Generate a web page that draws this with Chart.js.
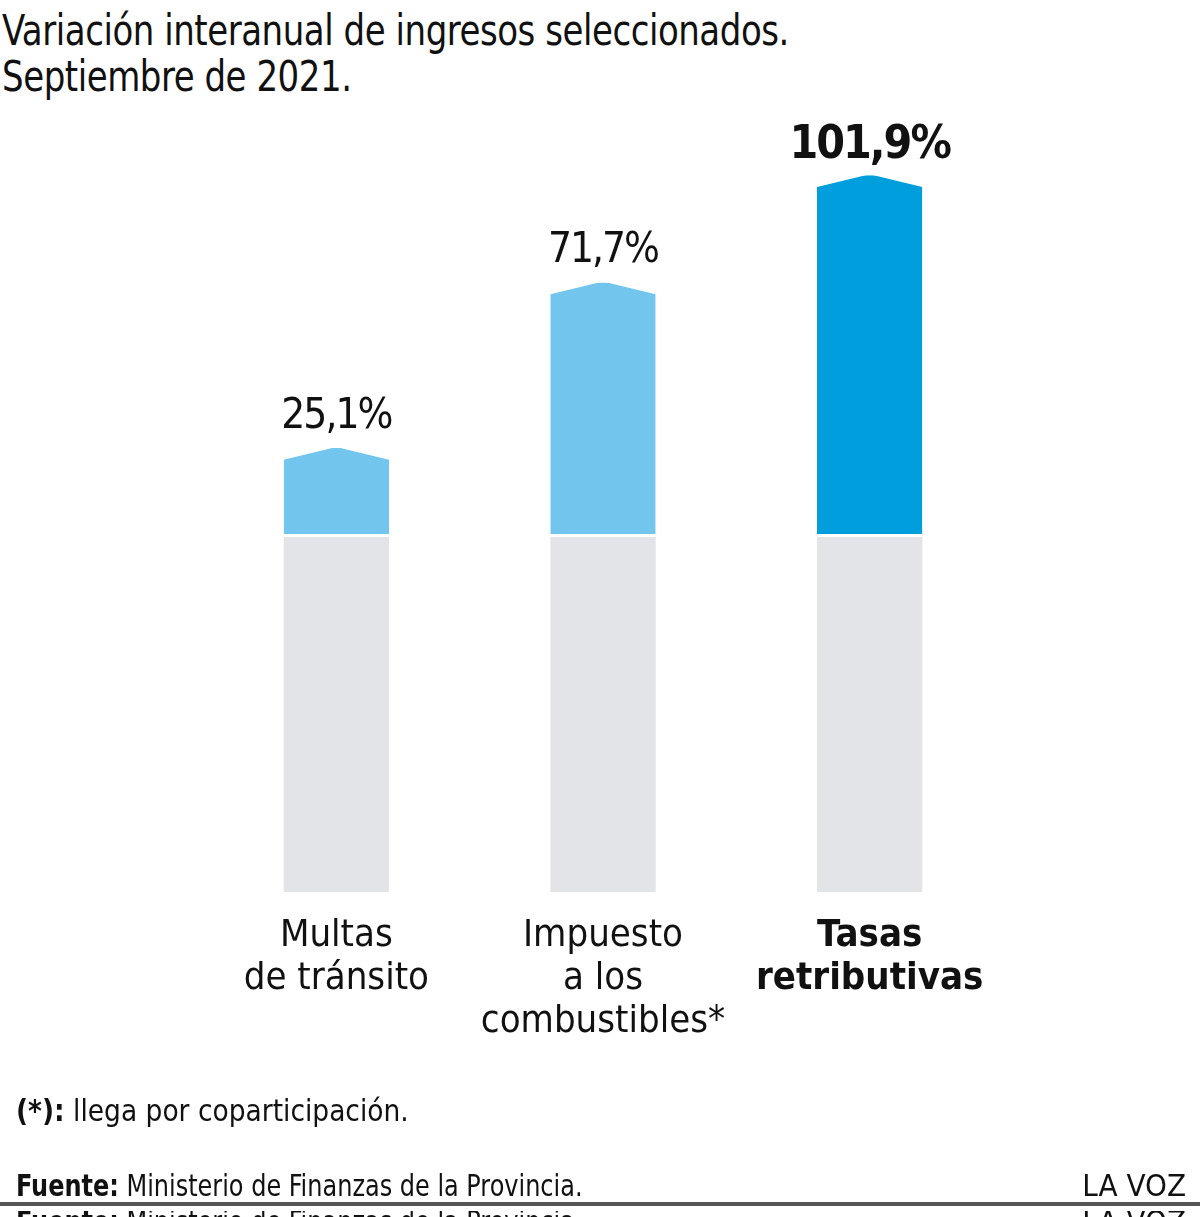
<!DOCTYPE html>
<html lang="es">
<head>
<meta charset="utf-8">
<script src="https://cdn.jsdelivr.net/npm/chart.js@4"></script>
<style>
  html, body { margin: 0; padding: 0; background: #fff; }
  body { width: 1200px; height: 1217px; position: relative; overflow: hidden;
         font-family: "Liberation Sans Narrow", "DejaVu Sans Condensed", "Roboto", sans-serif; color: #111; }
  #titulo { position: absolute; left: 2px; top: 8px; font-size: 42px; line-height: 46px; letter-spacing: -0.5px;
            white-space: nowrap; transform: scaleX(0.9); transform-origin: left top; }
  #nota { position: absolute; left: 16px; top: 1092px; font-size: 31px; white-space: nowrap;
          transform: scaleX(0.95); transform-origin: left top; }
  #fuente { position: absolute; left: 16px; top: 1167px; font-size: 31px; white-space: nowrap;
            transform: scaleX(0.86); transform-origin: left top; }
  #marca { position: absolute; right: 14px; top: 1167px; font-size: 31px; }
  #linea { position: absolute; left: 0; top: 1202px; width: 1200px; height: 4px; background: #555; }
  #corte { position: absolute; left: 16px; top: 1211px; width: 1184px; height: 6px; overflow: hidden; font-size: 31px;
           white-space: nowrap; }
  #corte span.i { position: absolute; left: 0; top: -8px; transform: scaleX(0.86); transform-origin: left top; }
  #corte span.d { position: absolute; right: 14px; top: -8px; }
  canvas { position: absolute; left: 0; top: 0; }
</style>
</head>
<body>
<div id="titulo">Variación interanual de ingresos seleccionados.<br>Septiembre de 2021.</div>
<canvas id="grafico" width="1200" height="1217"></canvas>
<div id="nota"><b>(*):</b> llega por coparticipación.</div>
<div id="fuente"><b>Fuente:</b> Ministerio de Finanzas de la Provincia.</div>
<div id="marca">LA VOZ</div>
<div id="linea"></div>
<div id="corte"><span class="i"><b>Fuente:</b> Ministerio de Finanzas de la Provincia.</span><span class="d">LA VOZ</span></div>

<script>
// Datos del gráfico
const categorias = [
  ['Multas', 'de tránsito'],
  ['Impuesto', 'a los', 'combustibles*'],
  ['Tasas', 'retributivas']
];
const variaciones = [25.1, 71.7, 101.9];
const etiquetas = ['25,1%', '71,7%', '101,9%'];
const base = [100, 100, 100];

const fuente = '"Liberation Sans Narrow", "DejaVu Sans Condensed", "Roboto", sans-serif';

// Dibuja la punta de cada barra y el porcentaje encima
const puntas = {
  id: 'puntas',
  afterDatasetsDraw(chart) {
    const ctx = chart.ctx;
    const meta = chart.getDatasetMeta(1);
    meta.data.forEach((bar, i) => {
      const izq = bar.x - bar.width / 2;
      const der = bar.x + bar.width / 2;
      const alto = 12;
      ctx.save();
      ctx.fillStyle = '#fff';
      ctx.beginPath();
      ctx.moveTo(izq - 1, bar.y - 1);
      ctx.lineTo(bar.x, bar.y - 1);
      ctx.lineTo(izq - 1, bar.y + alto);
      ctx.closePath();
      ctx.fill();
      ctx.beginPath();
      ctx.moveTo(der + 1, bar.y - 1);
      ctx.lineTo(bar.x, bar.y - 1);
      ctx.lineTo(der + 1, bar.y + alto);
      ctx.closePath();
      ctx.fill();

      const negrita = i === 2;
      ctx.fillStyle = '#111';
      ctx.textAlign = 'center';
      ctx.textBaseline = 'alphabetic';
      ctx.letterSpacing = '-2px';
      ctx.font = (negrita ? 'bold 46px ' : '42px ') + fuente;
      ctx.fillText(etiquetas[i], bar.x, bar.y - (negrita ? 17 : 20));
      ctx.restore();
    });
  }
};

let grafico = new Chart(document.getElementById('grafico').getContext('2d'), {
  type: 'bar',
  data: {
    labels: categorias,
    datasets: [{
      label: 'base',
      data: base,
      backgroundColor: '#e3e4e8',
      borderWidth: 0
    }, {
      label: 'Variación interanual',
      data: variaciones,
      backgroundColor: ['#72c6ee', '#72c6ee', '#019ede'],
      borderColor: '#fff',
      borderWidth: { bottom: 3, top: 0, left: 0, right: 0 },
      borderSkipped: false
    }]
  },
  options: {
    responsive: false,
    animation: false,
    devicePixelRatio: 1,
    layout: { padding: { left: 203, right: 197, top: 111, bottom: 155 } },
    datasets: { bar: { barPercentage: 0.395, categoryPercentage: 1 } },
    plugins: { legend: { display: false }, tooltip: { enabled: false } },
    scales: {
      x: {
        stacked: true,
        grid: { display: false, drawTicks: false },
        border: { display: false },
        afterFit(scale) { scale.height = 170; },
        ticks: {
          padding: 23,
          color: '#111',
          maxRotation: 0,
          autoSkip: false,
          font: (c) => ({
            family: fuente,
            size: 38,
            weight: c.index === 2 ? 'bold' : 'normal',
            lineHeight: 1.13
          })
        }
      },
      y: {
        stacked: true,
        display: false,
        min: 0,
        max: 220
      }
    }
  },
  plugins: [puntas]
});
</script>
</body>
</html>
